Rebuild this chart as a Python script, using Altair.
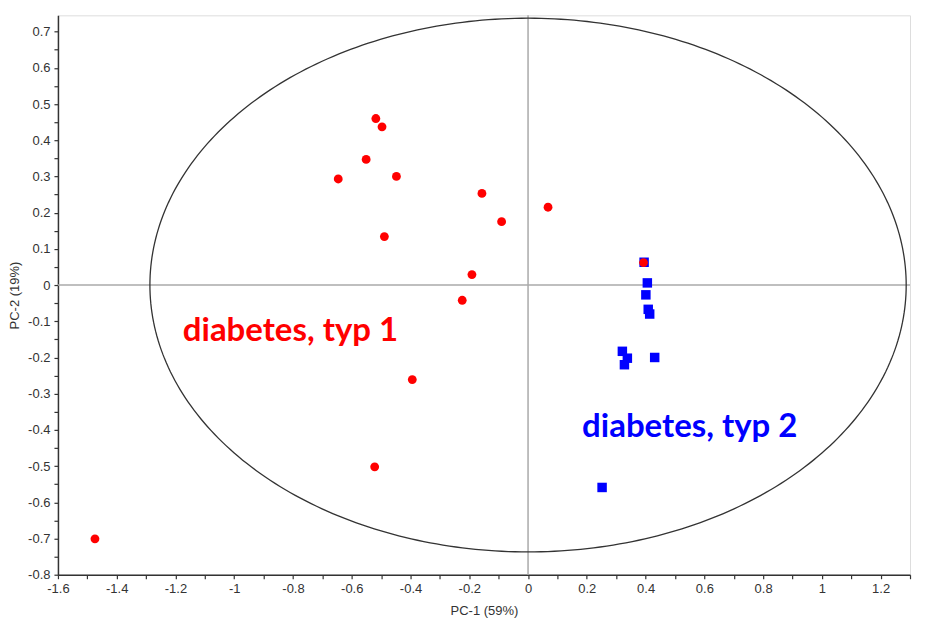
import altair as alt
import pandas as pd

# --- data ---
t1_x = [-0.518, -0.497, -0.551, -0.646, -0.448, -0.157, -0.090, 0.068, -0.489,
        -0.191, -0.224, -0.394, -0.522, -1.474, 0.393]
t1_y = [0.460, 0.437, 0.347, 0.293, 0.300, 0.253, 0.175, 0.215, 0.134,
        0.029, -0.042, -0.261, -0.502, -0.701, 0.062]
t2_x = [0.395, 0.406, 0.401, 0.409, 0.414, 0.321, 0.338, 0.328, 0.431, 0.252]
t2_y = [0.063, 0.006, -0.027, -0.067, -0.080, -0.183, -0.202, -0.220, -0.200, -0.559]

label_text = ["diabetes, typ 1", "diabetes, typ 2"]
label_x = [-1.175, 0.184]
label_y = [-0.154, -0.419]
label_color = ["#ff0000", "#0000ff"]

ellipse_a = 1.287
ellipse_b = 0.737

x_ticks = [round(-1.6 + 0.1 * i, 2) for i in range(30)]
y_ticks = [round(-0.8 + 0.05 * i, 2) for i in range(31)]

XDOM = [-1.6, 1.3]
YDOM = [-0.8, 0.745]

t1 = pd.DataFrame({"x": t1_x, "y": t1_y})
t2 = pd.DataFrame({"x": t2_x, "y": t2_y})
labels = pd.DataFrame({"text": label_text, "x": label_x, "y": label_y, "c": label_color})

x_label_expr = ("abs(round(datum.value*10)) % 2 == 0 ? "
                "((datum.value < -0.001 ? '-' : '') + format(abs(datum.value), '.1~f')) : ''")
y_label_expr = ("abs(round(datum.value*20)) % 2 == 0 ? "
                "((datum.value < -0.001 ? '-' : '') + format(abs(datum.value), '.1~f')) : ''")

xs = alt.Scale(domain=XDOM, nice=False, zero=False)
ys = alt.Scale(domain=YDOM, nice=False, zero=False)

common_axis = dict(grid=False, domainColor="#333333", domainWidth=1.5,
                   tickColor="#333333", tickSize=4, tickWidth=1.2,
                   labelFont="Liberation Sans", labelFontSize=13,
                   labelColor="#333333", labelPadding=4,
                   titleFont="Liberation Sans", titleFontSize=13,
                   titleFontWeight="normal", titleColor="#333333",
                   labelFlush=False, labelOverlap=False)

x_enc = alt.X("x:Q", scale=xs, title="PC-1 (59%)",
              axis=alt.Axis(values=x_ticks, labelExpr=x_label_expr,
                            titlePadding=9, **common_axis))
y_enc = alt.Y("y:Q", scale=ys, title="PC-2 (19%)",
              axis=alt.Axis(values=y_ticks, labelExpr=y_label_expr,
                            titlePadding=6, **common_axis))

# ellipse (Hotelling T2) drawn from its semi-axes
ellipse = alt.Chart(alt.sequence(0, 361, 1, as_="deg")).transform_calculate(
    x=f"{ellipse_a}*cos(datum.deg*PI/180)",
    y=f"{ellipse_b}*sin(datum.deg*PI/180)",
).mark_line(color="#333333", strokeWidth=1.3).encode(
    x=x_enc, y=y_enc, order="deg:Q"
)

hline = alt.Chart(pd.DataFrame({"y": [0.0]})).mark_rule(color="#aaaaaa", strokeWidth=1.5).encode(
    y=y_enc
)
vline = alt.Chart(pd.DataFrame({"x": [0.0]})).mark_rule(color="#aaaaaa", strokeWidth=1.5).encode(
    x=x_enc
)

blue = alt.Chart(t2).mark_square(color="#0000ff", opacity=1, size=90).encode(x=x_enc, y=y_enc)
red = alt.Chart(t1).mark_circle(color="#ff0000", opacity=1, size=78).encode(x=x_enc, y=y_enc)

text = alt.Chart(labels).mark_text(
    align="left", baseline="alphabetic", font="Lato", fontWeight="bold", fontSize=33
).encode(
    x=x_enc, y=y_enc, text="text:N", color=alt.Color("c:N", scale=None)
)

chart = alt.layer(hline, vline, ellipse, blue, red, text).properties(
    width=853, height=560,
    autosize=alt.AutoSizeParams(type="none"),
    padding={"left": 50, "top": 7, "right": 10, "bottom": 45},
).configure_view(stroke=None).configure(background="white")

chart.save("out.html", embed_options={"renderer": "svg", "actions": False})
